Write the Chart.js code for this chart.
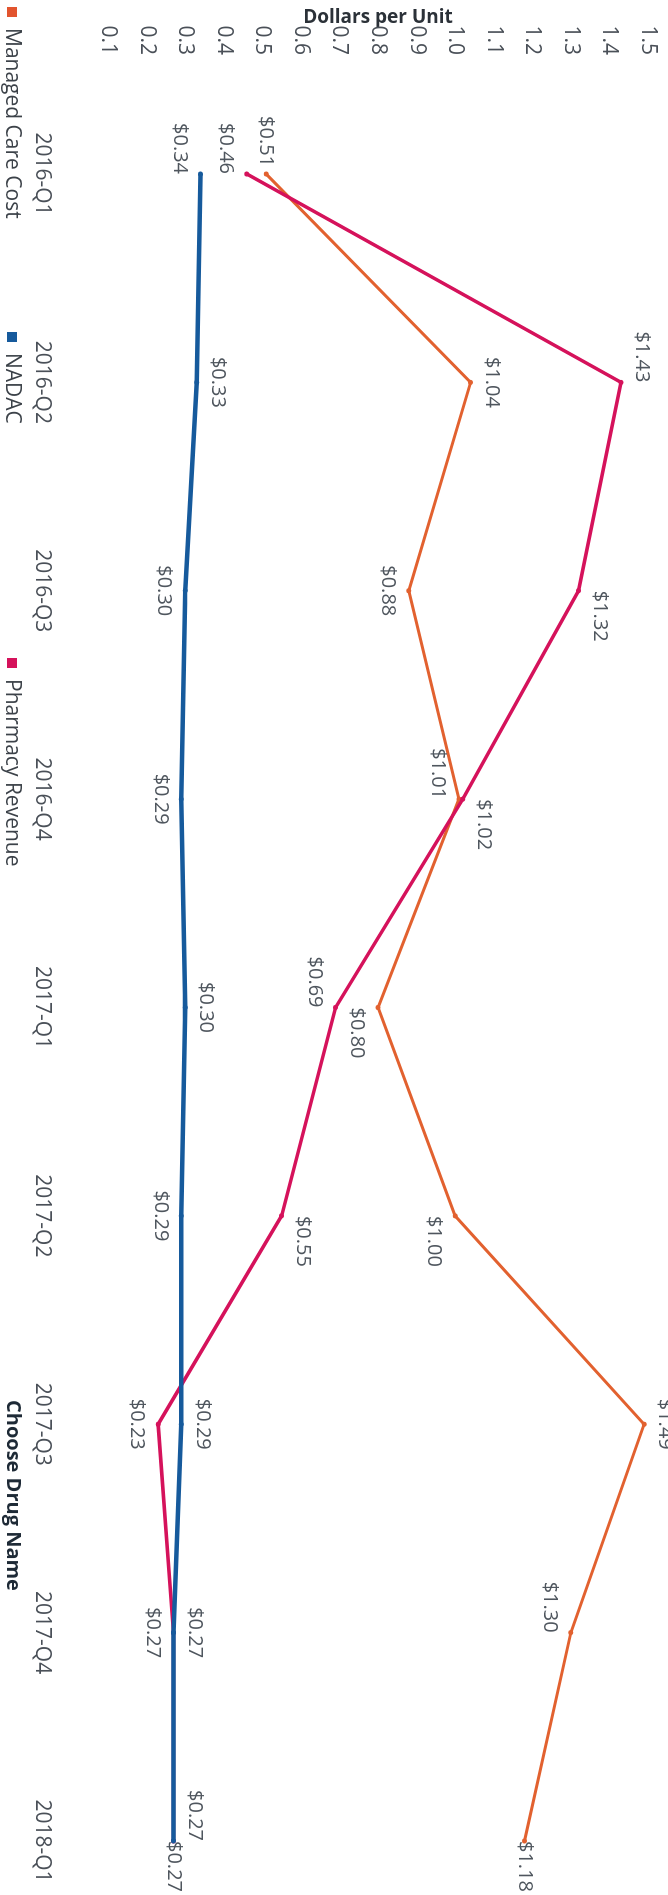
<!DOCTYPE html>
<html>
<head>
<meta charset="utf-8">
<script src="https://cdn.jsdelivr.net/npm/chart.js@4"></script>
<style>
    html, body { margin: 0; padding: 0; background: #fff; overflow: hidden; }
    body { width: 668px; height: 1895px; position: relative; }
    /* the chart is laid out landscape and turned a quarter clockwise */
    #stage {
        position: absolute; left: 0; top: 0;
        width: 1895px; height: 668px;
        transform-origin: 0 0;
        transform: translate(668px, 0) rotate(90deg);
        font-family: "Open Sans", sans-serif;
    }
    #chart { position: absolute; left: 0; top: 0; }
    .legend-item {
        position: absolute; top: 641px;
        font-size: 21px; color: #3c4249; white-space: nowrap;
        line-height: 26px;
    }
    .legend-item i {
        display: inline-block; width: 10px; height: 10px;
        margin-right: 11px; vertical-align: 1px;
    }
    #drug-filter {
        position: absolute; top: 641px; left: 1400px;
        font-size: 20px; font-weight: bold; color: #1e2a36;
        line-height: 26px; white-space: nowrap;
    }
</style>
</head>
<body>
<div id="stage">
    <canvas id="chart" width="1895" height="668"></canvas>
    <div class="legend-item" style="left:7px"><i style="background:#E2542E"></i>Managed Care Cost</div>
    <div class="legend-item" style="left:332px"><i style="background:#165A9C"></i>NADAC</div>
    <div class="legend-item" style="left:658px"><i style="background:#D5125B"></i>Pharmacy Revenue</div>
    <div id="drug-filter">Choose Drug Name</div>
</div>
<script>
// Data
const quarters = ['2016-Q1', '2016-Q2', '2016-Q3', '2016-Q4', '2017-Q1', '2017-Q2', '2017-Q3', '2017-Q4', '2018-Q1'];
const managedCareCost = [0.51, 1.04, 0.88, 1.01, 0.80, 1.00, 1.49, 1.30, 1.18];
const pharmacyRevenue = [0.46, 1.43, 1.32, 1.02, 0.69, 0.55, 0.23, 0.27, 0.27];
const nadac = [0.34, 0.33, 0.30, 0.29, 0.30, 0.29, 0.29, 0.27, 0.27];
const valueAxisMin = 0.1;
const valueAxisMax = 1.5;
const valueAxisStep = 0.1;

// Where each value label sits relative to its point
const managedCareSpots = ['left', 'top', 'bottom', 'bottomLeft', 'bottomRight', 'bottomRight', 'top', 'bottomLeft', 'right'];
const pharmacySpots = ['bottomLeft', 'topLeft', 'topRight', 'topRight', 'bottomLeft', 'topRight', 'bottom', 'bottom', 'right'];
const nadacSpots = ['bottomLeft', 'top', 'bottom', 'bottom', 'top', 'bottom', 'top', 'top', 'topLeft'];

const FONT = '"Open Sans", sans-serif';

// Draws the "$0.00" labels next to each point
const valueLabels = {
    id: 'valueLabels',
    afterDatasetsDraw(chart) {
        const ctx = chart.ctx;
        ctx.save();
        ctx.font = '20px ' + FONT;
        ctx.fillStyle = '#4f565e';
        ctx.textBaseline = 'middle';
        chart.data.datasets.forEach((ds, i) => {
            const meta = chart.getDatasetMeta(i);
            meta.data.forEach((pt, j) => {
                const spot = ds.labelSpots[j];
                let dx = 0, dy = 0, align = 'center';
                if (spot.startsWith('top')) dy = -21;
                if (spot.startsWith('bottom')) dy = 21;
                if (spot.endsWith('Left')) align = 'right';
                if (spot.endsWith('Right')) align = 'left';
                if (spot === 'left') { align = 'right'; dx = -7; }
                if (spot === 'right') { align = 'left'; }
                ctx.textAlign = align;
                ctx.fillText('$' + ds.data[j].toFixed(2), pt.x + dx, pt.y + dy);
            });
        });
        ctx.restore();
    }
};

const lineSet = (label, data, color, width, spots, order) => ({
    label: label,
    data: data,
    borderColor: color,
    backgroundColor: color,
    borderWidth: width,
    tension: 0,
    pointRadius: 2.5,
    pointBorderWidth: 0,
    pointBackgroundColor: color,
    labelSpots: spots,
    order: order
});

const ctx = document.getElementById('chart').getContext('2d');
new Chart(ctx, {
    type: 'line',
    data: {
        labels: quarters,
        datasets: [
            lineSet('Managed Care Cost', managedCareCost, '#E2612F', 3, managedCareSpots, 3),
            lineSet('NADAC', nadac, '#165A9C', 4.5, nadacSpots, 1),
            lineSet('Pharmacy Revenue', pharmacyRevenue, '#D5125B', 3.5, pharmacySpots, 2)
        ]
    },
    options: {
        responsive: false,
        animation: false,
        devicePixelRatio: 1,
        layout: { padding: { top: 20, right: 54, bottom: 0, left: 0 } },
        plugins: {
            legend: { display: false },
            tooltip: { enabled: false }
        },
        scales: {
            x: {
                offset: false,
                grid: { display: false },
                border: { display: false },
                ticks: {
                    autoSkip: false,
                    maxRotation: 0,
                    padding: 45,
                    color: '#4a5058',
                    font: { family: FONT, size: 21 }
                },
                afterFit: (scale) => {
                    scale.height = 108;
                    scale.paddingLeft = 0;
                    scale.paddingRight = 0;
                }
            },
            y: {
                min: valueAxisMin,
                max: valueAxisMax,
                grid: { display: false },
                border: { display: false },
                ticks: {
                    stepSize: valueAxisStep,
                    padding: 111,
                    color: '#4a5058',
                    font: { family: FONT, size: 21 },
                    callback: (v) => Number(v).toFixed(1)
                },
                title: {
                    display: true,
                    text: 'Dollars per Unit',
                    color: '#2b3138',
                    padding: { top: 6, bottom: 4 },
                    font: { family: FONT, size: 19, weight: 'bold' }
                },
                afterFit: (scale) => {
                    scale.width = 174;
                    scale.paddingTop = 0;
                    scale.paddingBottom = 0;
                }
            }
        }
    },
    plugins: [valueLabels]
});
</script>
</body>
</html>
